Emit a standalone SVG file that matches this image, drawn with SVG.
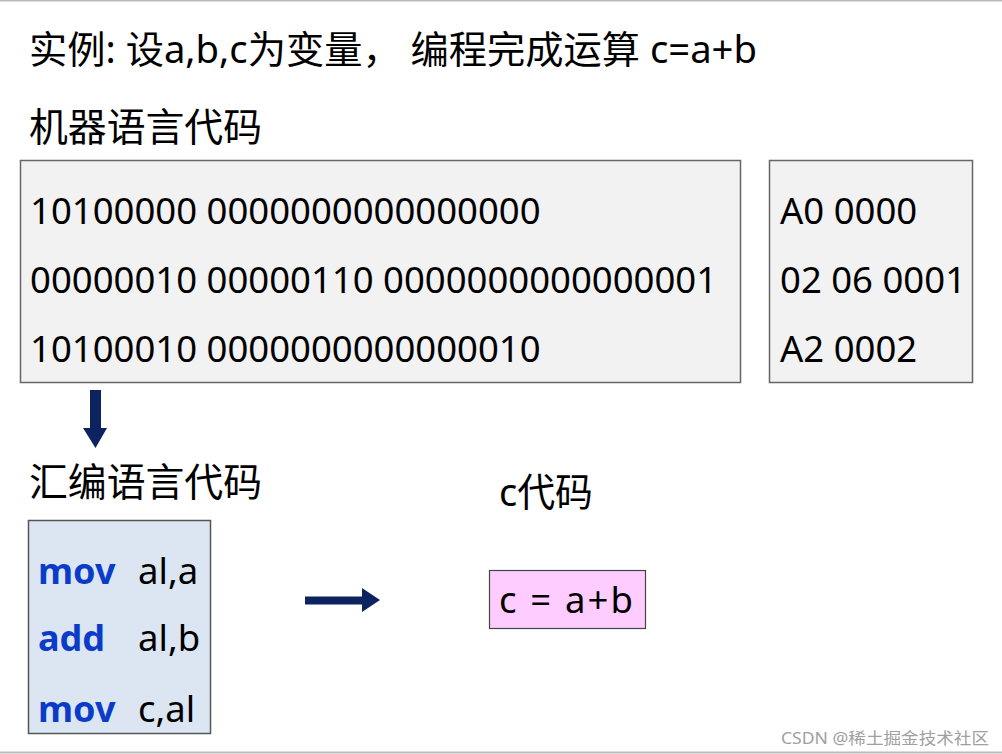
<svg xmlns="http://www.w3.org/2000/svg" width="1002" height="754" viewBox="0 0 1002 754">
<style>
text{font-family:"Noto Sans","Noto Sans CJK SC",sans-serif;fill:#000}
.t{font-size:37.5px}
.h{font-size:38.5px}
.code{font-size:36.5px}
.kw{font-size:36px;font-weight:bold;fill:#0a3cc8}
.box{fill:#f2f2f2;stroke:#666;stroke-width:1.5}
.wm{font-size:16px;fill:#a0a0a0}
</style>
<rect width="1002" height="754" fill="#fff"/>
<line x1="0" y1="0.5" x2="1002" y2="0.5" stroke="#bbb" stroke-width="2"/>
<line x1="0" y1="752.5" x2="1002" y2="752.5" stroke="#bbb" stroke-width="2"/>
<g id="title"><text class="t" x="29" y="63" textLength="728" lengthAdjust="spacingAndGlyphs">实例: 设a,b,c为变量， 编程完成运算 c=a+b</text></g>
<g id="machine-label"><text class="h" x="29" y="141" textLength="233" lengthAdjust="spacingAndGlyphs">机器语言代码</text></g>
<g id="machine-bin">
<rect class="box" x="20.5" y="160.5" width="720" height="222"/>
<text class="code" x="30" y="224">10100000 0000000000000000</text>
<text class="code" x="30" y="293">00000010 00000110 0000000000000001</text>
<text class="code" x="30" y="362">10100010 0000000000000010</text>
</g>
<g id="machine-hex">
<rect class="box" x="769.5" y="160.5" width="203" height="222"/>
<text class="code" x="780" y="224">A0 0000</text>
<text class="code" x="780" y="293">02 06 0001</text>
<text class="code" x="780" y="362">A2 0002</text>
</g>
<g id="asm-label"><text class="h" x="29" y="496" textLength="233" lengthAdjust="spacingAndGlyphs">汇编语言代码</text></g>
<g id="asm">
<rect x="28.5" y="520.5" width="182" height="213" fill="#dce6f2" stroke="#555" stroke-width="1.5"/>
<text class="kw" x="38" y="584">mov</text><text class="code" x="138" y="584">al,a</text>
<text class="kw" x="38" y="651">add</text><text class="code" x="138" y="651">al,b</text>
<text class="kw" x="38" y="722">mov</text><text class="code" x="138" y="722">c,al</text>
</g>
<g id="c-label"><text class="h" x="499" y="506" textLength="94" lengthAdjust="spacingAndGlyphs">c代码</text></g>
<g id="c-code">
<rect x="489.5" y="570.5" width="156" height="58" fill="#ffccff" stroke="#444" stroke-width="1.2"/>
<text class="code" x="499" y="613" textLength="134" lengthAdjust="spacing">c = a+b</text>
</g>
<g id="connectors" fill="#0d2360">
<path d="M90,390 H101 V428 H107 L95.5,448 L83,428 H90 Z"/>
<path d="M305,596.5 H362 V588 L380,600 L362,612 V604.5 H305 Z"/>
</g>
<g id="watermark">
<text class="wm" x="781" y="744" textLength="208" lengthAdjust="spacingAndGlyphs">CSDN @稀土掘金技术社区</text>
</g>
</svg>
